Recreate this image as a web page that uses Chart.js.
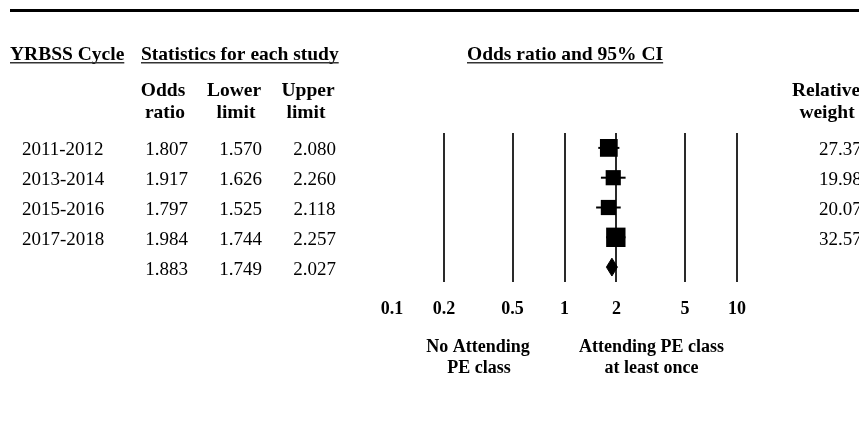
<!DOCTYPE html>
<html>
<head>
<meta charset="utf-8">
<script src="https://cdn.jsdelivr.net/npm/chart.js@4.4.0/dist/chart.umd.min.js"></script>
<style>
  html, body { margin: 0; padding: 0; background: #fff; }
  #wrap { width: 859px; height: 423px; }
</style>
</head>
<body>
<div id="wrap"><canvas id="forest" width="859" height="423"></canvas></div>
<script>
// study rows
const cycles = ['2011-2012', '2013-2014', '2015-2016', '2017-2018'];
const oddsRatio = [1.807, 1.917, 1.797, 1.984];
const lowerLimit = [1.570, 1.626, 1.525, 1.744];
const upperLimit = [2.080, 2.260, 2.118, 2.257];
const relWeight = [27.37, 19.98, 20.07, 32.57];

// pooled estimate
const pooledOR = 1.883;
const pooledLower = 1.749;
const pooledUpper = 2.027;

const tickValues = [0.1, 0.2, 0.5, 1, 2, 5, 10];

const serif = "'Liberation Serif', 'Times New Roman', serif";
const pooledRow = cycles.length;
const diamondHalf = 0.3;

const fmt = v => v.toFixed(3);

const ciSets = cycles.map((c, i) => ({
  data: [{ x: lowerLimit[i], y: i }, { x: upperLimit[i], y: i }],
  showLine: true,
  borderColor: '#000',
  borderWidth: 2,
  pointRadius: 0
}));

const squareSet = {
  data: oddsRatio.map((v, i) => ({ x: v, y: i })),
  pointStyle: 'rect',
  pointRadius: ctx => 2.4 * Math.sqrt(relWeight[ctx.dataIndex]),
  backgroundColor: '#000',
  borderColor: '#000',
  borderWidth: 0
};

const diamondTop = {
  data: [
    { x: pooledLower, y: pooledRow },
    { x: pooledOR, y: pooledRow - diamondHalf },
    { x: pooledUpper, y: pooledRow }
  ],
  showLine: true,
  fill: '+1',
  backgroundColor: '#000',
  borderColor: '#000',
  borderWidth: 1,
  pointRadius: 0
};

const diamondBottom = {
  data: [
    { x: pooledLower, y: pooledRow },
    { x: pooledOR, y: pooledRow + diamondHalf },
    { x: pooledUpper, y: pooledRow }
  ],
  showLine: true,
  backgroundColor: '#000',
  borderColor: '#000',
  borderWidth: 1,
  pointRadius: 0
};

function underlined(ctx, text, x, y) {
  ctx.fillText(text, x, y);
  const w = ctx.measureText(text).width;
  ctx.fillStyle = '#333';
  ctx.fillRect(x, y + 2, w, 1.5);
  ctx.fillStyle = '#000';
}

// table text, headers and labels around the plot
const tablePlugin = {
  id: 'forestTable',
  afterDraw(chart) {
    const ctx = chart.ctx;
    const yScale = chart.scales.y;
    ctx.save();
    ctx.fillStyle = '#000';
    ctx.fillRect(10, 9, 849, 3);

    ctx.textBaseline = 'alphabetic';
    ctx.textAlign = 'left';
    ctx.font = 'bold 19.5px ' + serif;
    underlined(ctx, 'YRBSS Cycle', 10, 60);
    underlined(ctx, 'Statistics for each study', 141, 60);
    underlined(ctx, 'Odds ratio and 95% CI', 467, 60);

    ctx.textAlign = 'center';
    ctx.fillText('Odds', 163, 96);
    ctx.fillText('ratio', 165, 118);
    ctx.fillText('Lower', 234, 96);
    ctx.fillText('limit', 236, 118);
    ctx.fillText('Upper', 308, 96);
    ctx.fillText('limit', 306, 118);
    ctx.fillText('Relative', 826, 96);
    ctx.fillText('weight', 827, 118);

    ctx.font = '19px ' + serif;
    const rows = cycles.length + 1;
    for (let i = 0; i < rows; i++) {
      const y = yScale.getPixelForValue(i) + 7.5;
      const or = i < cycles.length ? oddsRatio[i] : pooledOR;
      const lo = i < cycles.length ? lowerLimit[i] : pooledLower;
      const hi = i < cycles.length ? upperLimit[i] : pooledUpper;
      ctx.textAlign = 'left';
      if (i < cycles.length) {
        ctx.fillText(cycles[i], 22, y);
        ctx.fillText(relWeight[i].toFixed(2), 819, y);
      }
      ctx.textAlign = 'center';
      ctx.fillText(fmt(or), 166.5, y);
      ctx.fillText(fmt(lo), 240.5, y);
      ctx.fillText(fmt(hi), 314.5, y);
    }

    ctx.font = 'bold 18px ' + serif;
    ctx.fillText('No Attending', 478, 352);
    ctx.fillText('PE class', 479, 373);
    ctx.fillText('Attending PE class', 651.5, 352);
    ctx.fillText('at least once', 651.5, 373);
    ctx.restore();
  }
};

new Chart(document.getElementById('forest'), {
  type: 'scatter',
  data: {
    datasets: [...ciSets, squareSet, diamondTop, diamondBottom]
  },
  options: {
    responsive: false,
    animation: false,
    layout: { padding: { top: 133, left: 392, right: 122, bottom: 101 } },
    plugins: {
      legend: { display: false },
      tooltip: { enabled: false }
    },
    scales: {
      x: {
        type: 'logarithmic',
        min: 0.1,
        max: 10,
        afterBuildTicks: s => { s.ticks = tickValues.map(v => ({ value: v })); },
        afterFit: s => { s.height = 40; },
        border: { display: false },
        grid: {
          drawTicks: false,
          lineWidth: 2,
          color: c => (c.tick && c.tick.value === 0.1) ? 'rgba(0,0,0,0)' : '#2a2a2a'
        },
        ticks: {
          padding: 17,
          color: '#000',
          font: { family: serif, size: 18, weight: 'bold' },
          callback: v => String(v)
        }
      },
      y: {
        type: 'linear',
        min: -0.5,
        max: 4.5,
        reverse: true,
        display: false
      }
    }
  },
  plugins: [tablePlugin]
});
</script>
</body>
</html>
